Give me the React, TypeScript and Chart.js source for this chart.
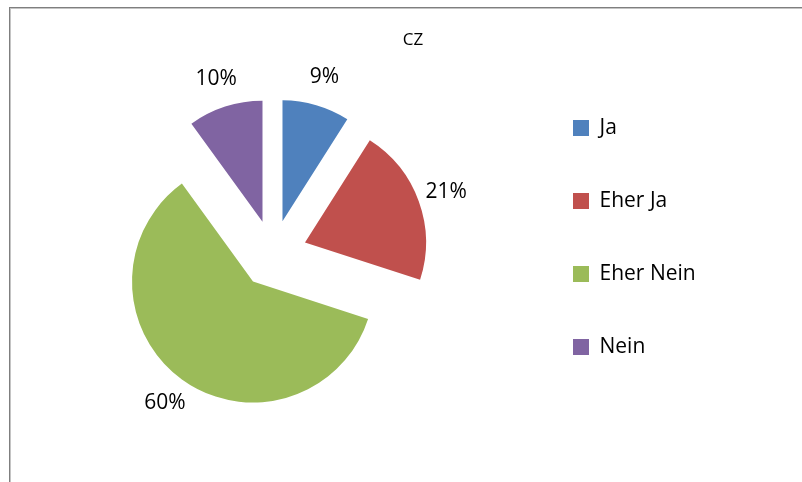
import React, { useEffect, useRef } from 'react';
import { Chart, registerables } from 'chart.js';

Chart.register(...registerables);

// ---- data ----
const TITLE = 'CZ';
const CATEGORIES = ['Ja', 'Eher Ja', 'Eher Nein', 'Nein'];
const VALUES = [9, 21, 60, 10];
const COLORS = ['#4F81BD', '#C0504D', '#9BBB59', '#8064A2'];

// ---- style / layout ----
const FONT = '"Open Sans", "Noto Sans", sans-serif';
const W = 802;
const H = 482;
const EXPLODE = 34;
const LABEL_GAP = 29;
const PIE_RADIUS = 121;
const LABEL_FONT = 21;
const TITLE_FONT = 17;
const LEGEND_FONT = 21;
const LEGEND_BOX = 16;
const LEGEND_PAD = 52;
const LEGEND_LEFT = 521;
const PAD = { left: 25, right: 1, top: 20, bottom: 27 };

function spacerWidth(): number {
  const c = document.createElement('canvas').getContext('2d');
  let maxW = 0;
  if (c) {
    c.font = `${LEGEND_FONT}px ${FONT}`;
    CATEGORIES.forEach((t) => {
      maxW = Math.max(maxW, c.measureText(t).width);
    });
  }
  const legendW = LEGEND_PAD + LEGEND_BOX + LEGEND_FONT / 2 + maxW + 10;
  return Math.max(W - PAD.right - LEGEND_LEFT - legendW, 10);
}

const explodePlugin = {
  id: 'explodeSlices',
  beforeDatasetDraw(chart: any, args: any) {
    const ctx = chart.ctx;
    args.meta.data.forEach((arc: any) => {
      const mid = (arc.startAngle + arc.endAngle) / 2;
      ctx.save();
      ctx.translate(Math.cos(mid) * EXPLODE, Math.sin(mid) * EXPLODE);
      arc.draw(ctx, chart.chartArea);
      ctx.restore();
    });
    return false;
  },
};

const labelPlugin = {
  id: 'sliceLabels',
  afterDatasetsDraw(chart: any) {
    const ctx = chart.ctx;
    const meta = chart.getDatasetMeta(0);
    const data = chart.data.datasets[0].data as number[];
    const total = data.reduce((a, b) => a + b, 0);
    ctx.save();
    ctx.font = `${LABEL_FONT}px ${FONT}`;
    ctx.fillStyle = '#000';
    ctx.textAlign = 'center';
    ctx.textBaseline = 'middle';
    meta.data.forEach((arc: any, i: number) => {
      const mid = (arc.startAngle + arc.endAngle) / 2;
      const r = arc.outerRadius + EXPLODE + LABEL_GAP;
      const pct = Math.round((data[i] / total) * 100);
      ctx.fillText(`${pct}%`, arc.x + Math.cos(mid) * r, arc.y + Math.sin(mid) * r);
    });
    ctx.restore();
  },
};

export default function App() {
  const ref = useRef<HTMLCanvasElement | null>(null);

  useEffect(() => {
    if (!ref.current) return;
    const s = spacerWidth();
    const chart = new Chart(ref.current, {
      type: 'pie',
      data: {
        labels: CATEGORIES,
        datasets: [
          {
            data: VALUES,
            backgroundColor: COLORS,
            borderWidth: 0,
          },
        ],
      },
      options: {
        responsive: false,
        animation: false,
        events: [],
        radius: PIE_RADIUS,
        layout: { padding: PAD },
        plugins: {
          tooltip: { enabled: false },
          title: {
            display: true,
            text: TITLE,
            color: '#000',
            font: { family: FONT, size: TITLE_FONT, weight: 'normal', lineHeight: 1.2 },
            padding: { top: 9.8, bottom: 2.8 },
          },
          subtitle: {
            display: true,
            text: '',
            position: 'right',
            font: { family: FONT, size: 10, lineHeight: 1 },
            padding: { top: (s - 10) / 2, bottom: (s - 10) / 2 },
          },
          legend: {
            display: true,
            position: 'right',
            align: 'center',
            labels: {
              color: '#000',
              boxWidth: LEGEND_BOX,
              boxHeight: LEGEND_BOX,
              padding: LEGEND_PAD,
              font: { family: FONT, size: LEGEND_FONT },
            },
          },
        },
      } as any,
      plugins: [explodePlugin, labelPlugin],
    });
    return () => chart.destroy();
  }, []);

  return (
    <div style={{ position: 'fixed', left: 0, top: 0, width: W, height: H, background: '#fff', overflow: 'hidden' }}>
      <div
        style={{
          position: 'absolute',
          left: 9,
          top: 7,
          width: W,
          height: H,
          borderTop: '1px solid #7f7f7f',
          borderLeft: '1px solid #7f7f7f',
          boxShadow: 'inset 1px 1px 0 #c4c4c4',
        }}
      />
      <canvas ref={ref} width={W} height={H} style={{ position: 'absolute', left: 0, top: 0, width: W, height: H }} />
    </div>
  );
}
